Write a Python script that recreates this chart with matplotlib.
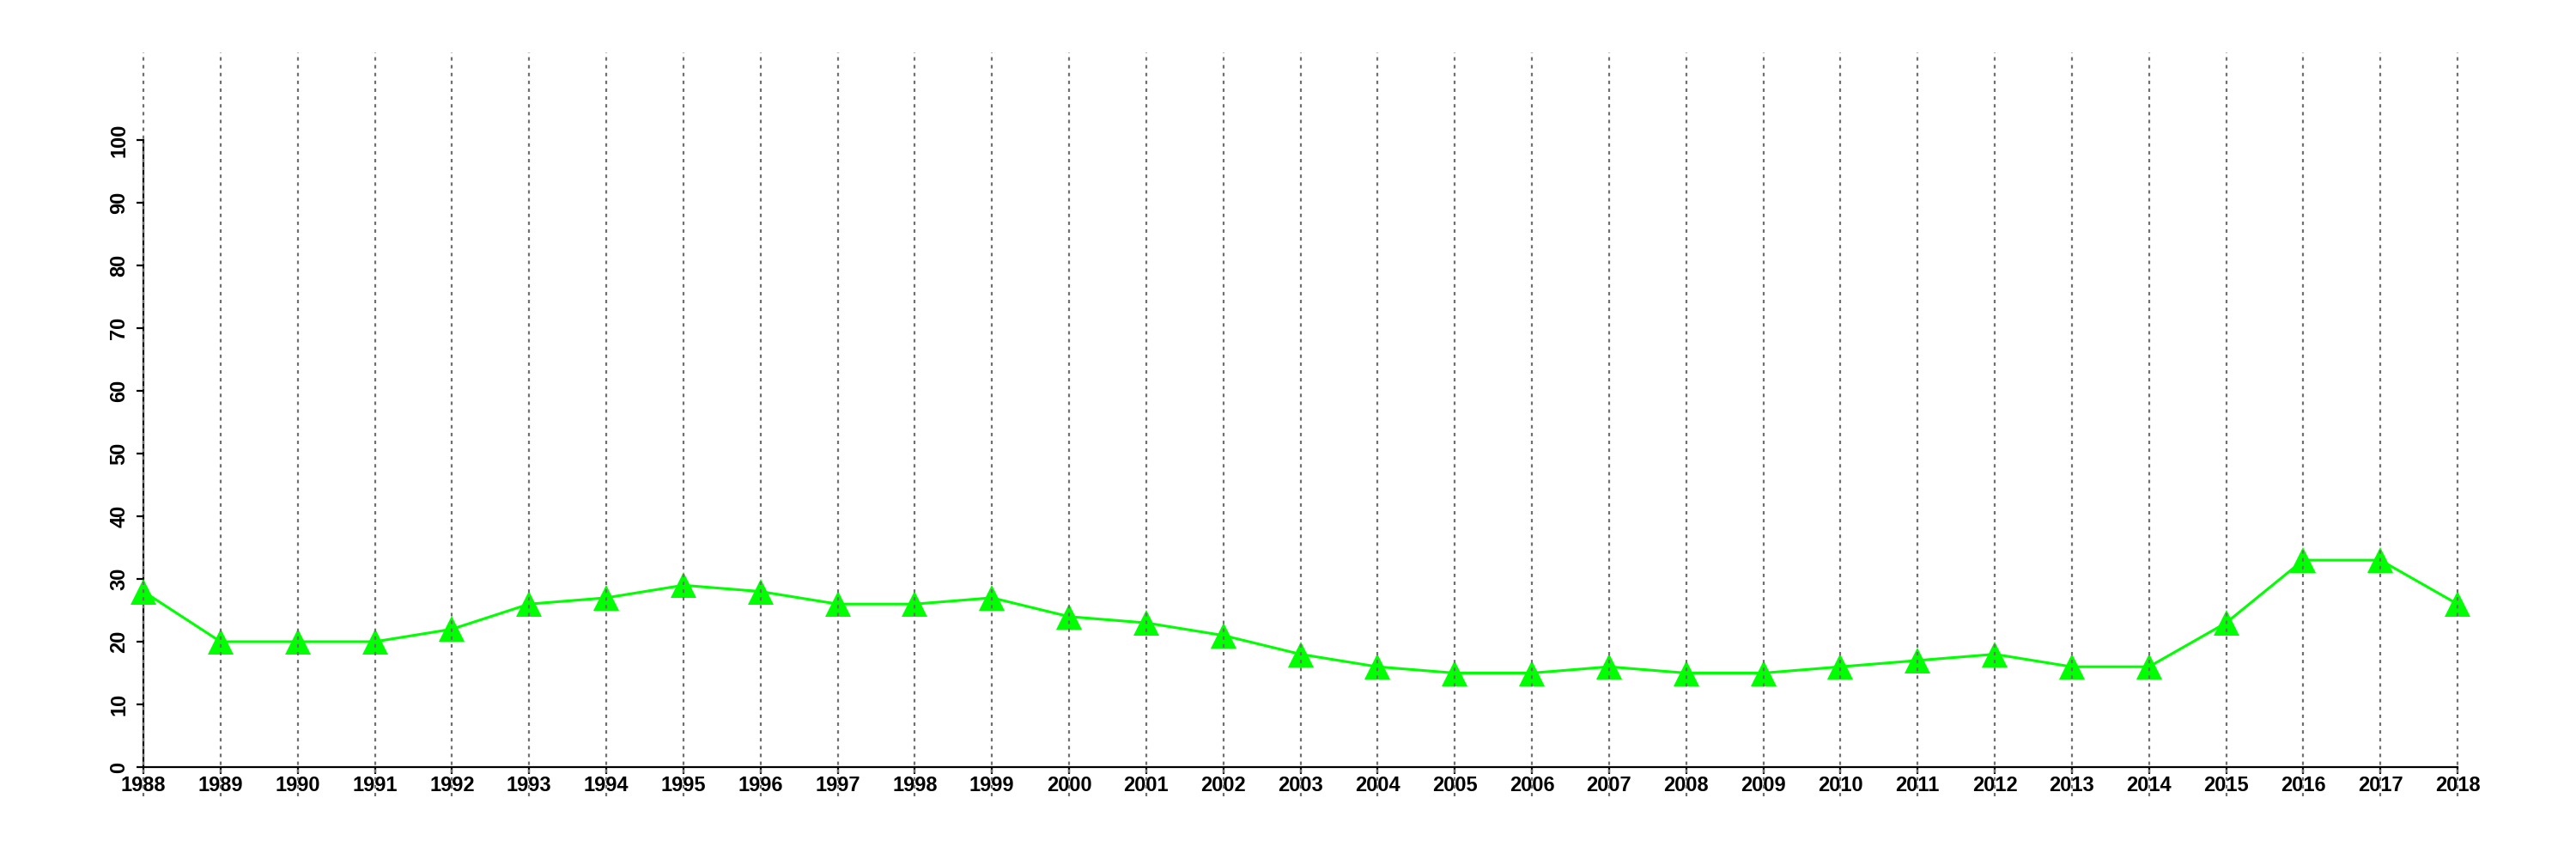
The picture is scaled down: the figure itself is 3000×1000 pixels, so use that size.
import matplotlib
matplotlib.use("Agg")
import matplotlib.pyplot as plt

# yearly values
years = list(range(1988, 2019))
values = [28, 20, 20, 20, 22, 26, 27, 29, 28, 26, 26, 27, 24, 23, 21, 18,
          16, 15, 15, 16, 15, 15, 16, 17, 18, 16, 16, 23, 33, 33, 26]
y_ticks = list(range(0, 101, 10))

plt.rcParams['font.family'] = ['Liberation Sans', 'DejaVu Sans']

fig = plt.figure(figsize=(30, 10), dpi=100)
ax = fig.add_axes([167 / 3000, 107 / 1000, 2695 / 3000, 730 / 1000])

ax.plot(years, values, color='#00ff00', linewidth=2.2, marker='^',
        markersize=21, markeredgewidth=0, clip_on=False, zorder=3)

# dotted vertical guides, running past the plot box as in the original
for yr in years:
    ax.plot([yr, yr], [-4.7, 114], color='#707070', linewidth=1.6,
            dashes=(1.8, 2.3), clip_on=False, zorder=4)

ax.set_xlim(1988, 2018)
ax.set_ylim(0, 100)
ax.set_xticks(years)
ax.set_yticks(y_ticks)

for side in ['top', 'right']:
    ax.spines[side].set_visible(False)
for side in ['left', 'bottom']:
    ax.spines[side].set_linewidth(1.6)

ax.tick_params(axis='x', length=6, width=1.6, pad=1, labelsize=17)
ax.tick_params(axis='y', length=6, width=1.6, pad=6, labelsize=17)
for lab in ax.get_xticklabels():
    lab.set_fontweight('bold')
for lab in ax.get_yticklabels():
    lab.set_fontweight('bold')
    lab.set_rotation(90)
    lab.set_va('center')

fig.savefig('out.png', dpi=100)
